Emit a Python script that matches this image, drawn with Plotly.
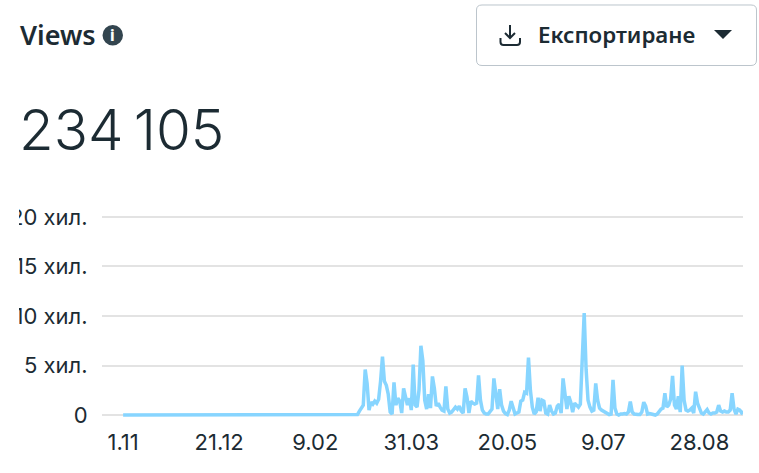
import pandas as pd
import plotly.graph_objects as go

W, H = 759, 473
start_date = "2024-11-01"
leading_zero_days = 122
views_thousands = [
    0.05, 0.4, 0.8, 1.0, 4.6, 3.2, 0.5, 1.3, 1.1, 1.4, 1.2, 1.6, 3.4, 5.9, 3.4, 3.0, 2.1, 0.3, 0.1,
    3.3, 1.0, 1.7, 1.4, 0.2, 2.7, 1.9, 1.0, 1.7, 0.5, 5.1, 1.0, 0.8, 2.5, 7.0, 5.5, 1.5, 0.6, 2.1, 0.7,
    3.9, 2.7, 0.9, 1.2, 0.8, 0.5, 0.4, 2.9, 0.6, 0.2, 0.3, 0.6, 0.8, 0.6, 0.9, 0.4, 0.2, 2.7, 1.8, 0.2,
    1.4, 1.2, 1.1, 1.2, 4.0, 1.5, 0.5, 0.2, 0.1, 0.1, 0.3, 0.6, 3.7, 2.0, 0.6, 2.6, 1.0, 0.4, 0.15, 0.05,
    0.5, 1.4, 0.8, 0.1, 0.2, 0.3, 1.4, 1.5, 2.3, 2.2, 5.8, 2.5, 0.8, 0.1, 0.3, 1.75, 0.4, 1.5, 1.4, 0.2,
    0.1, 1.0, 0.4, 0.1, 0.2, 0.9, 1.1, 0.2, 3.7, 1.8, 0.6, 1.9, 1.3, 0.3, 1.2, 1.0, 0.8, 1.1, 5.0, 10.3,
    4.6, 1.5, 0.8, 0.4, 0.5, 3.2, 1.5, 0.7, 0.5, 0.4, 0.3, 0.15, 0.05, 0.1, 3.55, 0.7, 0.1, 0.0, 0.1, 0.1,
    0.15, 0.1, 0.3, 1.35, 0.3, 0.1, 0.05, 0.05, 0.05, 0.3, 1.3, 0.9, 0.1, 0.15, 0.1, 0.05, 0.0, 0.1, 0.4,
    0.6, 0.7, 2.2, 0.8, 1.0, 1.6, 3.95, 1.0, 0.6, 1.9, 0.3, 5.0, 1.5, 0.5, 0.4, 0.5, 0.7, 0.2, 2.35, 1.2,
    0.8, 0.2, 0.1, 0.4, 0.55, 0.2, 0.1, 0.2, 0.2, 0.3, 1.0, 0.4, 0.3, 0.4, 0.3, 0.3, 0.5, 2.2, 0.6, 0.1,
    0.6, 0.5, 0.2, 0.3,
]
x_tick_dates = ["2024-11-01", "2024-12-21", "2025-02-09", "2025-03-31", "2025-05-20", "2025-07-09", "2025-08-28"]
x_tick_labels = ["1.11", "21.12", "9.02", "31.03", "20.05", "9.07", "28.08"]
y_tick_values = [0, 5000, 10000, 15000, 20000]
y_tick_labels = ["0", "5 хил.", "10 хил.", "15 хил.", "20 хил."]
title_text = "Views"
total_text = "234\u2009105"
button_text = "Експортиране"

values = [0.0] * leading_zero_days + [v * 1000 for v in views_thousands]
dates = pd.date_range(start_date, periods=len(values), freq="D")


def px(x, y):
    return f"{x / W:.5f},{1 - y / H:.5f}"


def path(*cmds):
    out = []
    for c in cmds:
        if isinstance(c, str):
            out.append(c)
        else:
            out.append(px(*c))
    return " ".join(out)


def text(s, x, y, size, color, family, anchor="left", weight=None):
    fig.add_annotation(
        text=s, x=x / W, y=1 - y / H, xref="paper", yref="paper", showarrow=False,
        xanchor=anchor, yanchor="middle", borderpad=0,
        font=dict(size=size, color=color, family=family, weight=weight),
    )


fig = go.Figure(go.Scatter(
    x=dates, y=values, mode="lines", cliponaxis=False, hoverinfo="skip",
    line=dict(color="#87D5FF", width=3.5),
))
ink = "#1C2B33"
fig.update_layout(
    width=W, height=H, margin=dict(l=0, r=0, t=0, b=0), autosize=False,
    paper_bgcolor="white", plot_bgcolor="white", showlegend=False,
    xaxis=dict(
        domain=[102 / W, 743 / W], range=["2024-10-21", "2025-09-19 16:00"], type="date", automargin=False,
        tickmode="array", tickvals=x_tick_dates, ticktext=x_tick_labels,
        showgrid=False, zeroline=False, showline=False,
        ticks="outside", ticklen=4, tickcolor="rgba(0,0,0,0)",
        tickfont=dict(size=22, color=ink, family="Inter"),
    ),
    yaxis=dict(
        domain=[1 - 419 / H, 1 - 213 / H], range=[-400, 20400], automargin=False,
        tickmode="array", tickvals=y_tick_values, ticktext=y_tick_labels,
        gridcolor="#E3E3E3", gridwidth=2, zeroline=False, showline=False,
        ticks="outside", ticklen=9, tickcolor="rgba(0,0,0,0)",
        tickfont=dict(size=22, color=ink, family="Inter"),
    ),
    shapes=[
        # clip of the y labels at the left edge
        dict(type="rect", xref="paper", yref="paper", x0=0, x1=19 / W, y0=1 - 435 / H, y1=1 - 200 / H,
             fillcolor="white", line_width=0, layer="above"),
        # export button
        dict(type="path", xref="paper", yref="paper", layer="above", fillcolor="white",
             line=dict(color="#BCC5CC", width=1),
             path=path("M", (482, 5), "L", (751, 5), "Q", (756.5, 5), "", (756.5, 10), "L", (756.5, 60),
                       "Q", (756.5, 65.5), "", (751, 65.5), "L", (482, 65.5), "Q", (476.5, 65.5), "", (476.5, 60),
                       "L", (476.5, 10), "Q", (476.5, 5), "", (482, 5), "Z")),
        # download icon
        dict(type="path", xref="paper", yref="paper", layer="above", line=dict(color=ink, width=2),
             path=path("M", (510, 25), "L", (510, 38), "M", (505, 33), "L", (510, 38), "L", (515, 33),
                       "M", (500.5, 38), "L", (500.5, 42), "Q", (500.5, 45), "", (503.5, 45), "L", (517, 45),
                       "Q", (520, 45), "", (520, 42), "L", (520, 38))),
        # caret
        dict(type="path", xref="paper", yref="paper", layer="above", fillcolor=ink, line_width=0,
             path=path("M", (714, 30), "L", (732, 30), "L", (723, 39), "Z")),
        # info icon
        dict(type="circle", xref="paper", yref="paper", layer="above", fillcolor="#33454F", line_width=0,
             x0=102.5 / W, x1=123 / W, y0=1 - 45.5 / H, y1=1 - 25 / H),
    ],
)
text(title_text, 18.5, 35, 27, ink, "Noto Sans", weight=600)
text("i", 112.7, 35.5, 15, "white", "Noto Sans", "center", weight=800)
text(total_text, 17.5, 129, 56.5, ink, "Inter", weight=300)
text(button_text, 537, 35, 22.3, ink, "Noto Sans", weight=600)

fig.write_html("out.html", post_script="document.body.style.margin='0';", config={"displayModeBar": False})
